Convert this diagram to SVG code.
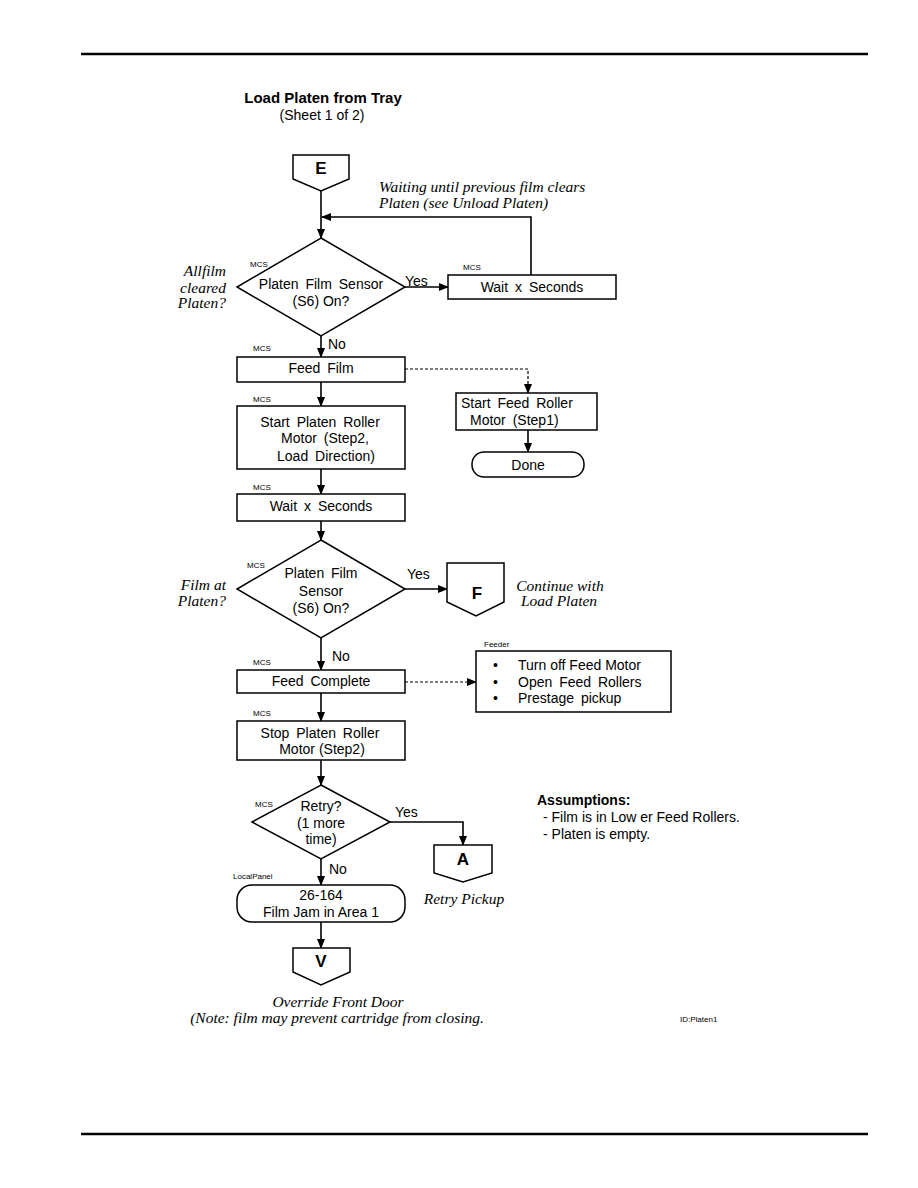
<svg xmlns="http://www.w3.org/2000/svg" width="918" height="1188" viewBox="0 0 918 1188">
<style>
.s{fill:#fff;stroke:#000;stroke-width:1.5}
.t{font-family:"Liberation Sans",Arial,sans-serif;font-size:14px;fill:#000}
.w{word-spacing:3px}
.c{text-anchor:middle}
.sm{font-family:"Liberation Sans",Arial,sans-serif;font-size:8px;fill:#000}
.b{font-family:"Liberation Sans",Arial,sans-serif;font-weight:bold;fill:#000}
.i{font-family:"Liberation Serif","Times New Roman",serif;font-style:italic;font-size:15.5px;fill:#000}
.ln{fill:none;stroke:#000;stroke-width:1.6}
.d{fill:none;stroke:#000;stroke-width:1.2;stroke-dasharray:3,2}
</style>
<defs>
<marker id="ah" markerWidth="10" markerHeight="8" refX="9" refY="4" orient="auto" markerUnits="userSpaceOnUse">
<path d="M0,0 L10,4 L0,8 z" fill="#000"/>
</marker>
</defs>
<rect width="918" height="1188" fill="#fff"/>
<line x1="81" y1="54" x2="868" y2="54" stroke="#000" stroke-width="2.5"/>
<line x1="81" y1="1134" x2="868" y2="1134" stroke="#000" stroke-width="2.5"/>
<text class="b c" x="323" y="103" font-size="15">Load Platen from Tray</text>
<text class="t c" x="322" y="120">(Sheet 1 of 2)</text>

<g id="connectors">
<line class="ln" x1="321" y1="191" x2="321" y2="238" marker-end="url(#ah)"/>
<polyline class="ln" points="531,275 531,217 322,217" marker-end="url(#ah)"/>
<line class="ln" x1="405" y1="287" x2="448" y2="287" marker-end="url(#ah)"/>
<line class="ln" x1="321" y1="336" x2="321" y2="357" marker-end="url(#ah)"/>
<line class="ln" x1="321" y1="382" x2="321" y2="406" marker-end="url(#ah)"/>
<line class="ln" x1="321" y1="469" x2="321" y2="494" marker-end="url(#ah)"/>
<line class="ln" x1="321" y1="521" x2="321" y2="540" marker-end="url(#ah)"/>
<line class="ln" x1="405" y1="589" x2="447" y2="589" marker-end="url(#ah)"/>
<line class="ln" x1="321" y1="638" x2="321" y2="670" marker-end="url(#ah)"/>
<polyline class="d" points="405,369 528,369 528,393" marker-end="url(#ah)"/>
<line class="ln" x1="528" y1="430" x2="528" y2="452" marker-end="url(#ah)"/>
<line class="d" x1="405" y1="682" x2="476" y2="682" marker-end="url(#ah)"/>
<line class="ln" x1="321" y1="693" x2="321" y2="721" marker-end="url(#ah)"/>
<line class="ln" x1="321" y1="760" x2="321" y2="785" marker-end="url(#ah)"/>
<polyline class="ln" points="390,822 463,822 463,845" marker-end="url(#ah)"/>
<line class="ln" x1="321" y1="859" x2="321" y2="885" marker-end="url(#ah)"/>
<line class="ln" x1="321" y1="922" x2="321" y2="948" marker-end="url(#ah)"/>
<text class="t" x="405" y="286">Yes</text>
<text class="t" x="328" y="349">No</text>
<text class="t" x="407" y="579">Yes</text>
<text class="t" x="332" y="661">No</text>
<text class="t" x="395" y="817">Yes</text>
<text class="t" x="329" y="874">No</text>
<text class="i" x="379" y="192">Waiting until previous film clears</text>
<text class="i" x="379" y="208">Platen (see Unload Platen)</text>
</g>

<g id="E">
<polygon class="s" points="293,155 349,155 349,179 321,191 293,179"/>
<text class="b c" x="321" y="174" font-size="17">E</text>
</g>

<g id="dec1">
<polygon class="s" points="321,238 405,287 321,336 237,287"/>
<text class="sm" x="250" y="267">MCS</text>
<text class="t c w" x="321" y="289">Platen Film Sensor</text>
<text class="t c" x="321" y="306">(S6) On?</text>
<text class="i" x="226" y="276" text-anchor="end">Allfilm</text>
<text class="i" x="226" y="293" text-anchor="end">cleared</text>
<text class="i" x="226" y="308" text-anchor="end">Platen?</text>
</g>

<g id="wait1">
<text class="sm" x="463" y="270">MCS</text>
<rect class="s" x="448" y="275" width="168" height="24"/>
<text class="t c w" x="532" y="292">Wait x Seconds</text>
</g>

<g id="feedfilm">
<text class="sm" x="253" y="351">MCS</text>
<rect class="s" x="237" y="357" width="168" height="25"/>
<text class="t c w" x="321" y="373">Feed Film</text>
</g>

<g id="startfeed">
<rect class="s" x="456" y="393" width="141" height="37"/>
<text class="t w" x="461" y="408">Start Feed Roller</text>
<text class="t w" x="470" y="425">Motor (Step1)</text>
</g>

<g id="done">
<rect class="s" x="472" y="452" width="112" height="25" rx="12" ry="12"/>
<text class="t c" x="528" y="470">Done</text>
</g>

<g id="startplaten">
<text class="sm" x="253" y="402">MCS</text>
<rect class="s" x="237" y="406" width="168" height="63"/>
<text class="t c w" x="320" y="427">Start Platen Roller</text>
<text class="t c w" x="325" y="443">Motor (Step2,</text>
<text class="t c w" x="326" y="461">Load Direction)</text>
</g>

<g id="wait2">
<text class="sm" x="253" y="490">MCS</text>
<rect class="s" x="237" y="494" width="168" height="27"/>
<text class="t c w" x="321" y="511">Wait x Seconds</text>
</g>

<g id="dec2">
<polygon class="s" points="321,540 405,589 321,638 237,589"/>
<text class="sm" x="247" y="568">MCS</text>
<text class="t c w" x="321" y="578">Platen Film</text>
<text class="t c" x="321" y="596">Sensor</text>
<text class="t c" x="321" y="613">(S6) On?</text>
<text class="i" x="226" y="590" text-anchor="end">Film at</text>
<text class="i" x="226" y="606" text-anchor="end">Platen?</text>
</g>

<g id="F">
<polygon class="s" points="447,563 504,563 504,602 476,616 447,602"/>
<text class="b c" x="477" y="599" font-size="17">F</text>
<text class="i c" x="560" y="591">Continue with</text>
<text class="i c" x="559" y="606">Load Platen</text>
</g>

<g id="feedcomplete">
<text class="sm" x="253" y="665">MCS</text>
<rect class="s" x="237" y="670" width="168" height="23"/>
<text class="t c w" x="321" y="686">Feed Complete</text>
</g>

<g id="feeder">
<text class="sm" x="484" y="647">Feeder</text>
<rect class="s" x="476" y="651" width="195" height="61"/>
<text class="t" x="493" y="670">•</text>
<text class="t" x="518" y="670">Turn off Feed Motor</text>
<text class="t" x="493" y="687">•</text>
<text class="t w" x="518" y="687">Open Feed Rollers</text>
<text class="t" x="493" y="703">•</text>
<text class="t w" x="518" y="703">Prestage pickup</text>
</g>

<g id="stopplaten">
<text class="sm" x="253" y="716">MCS</text>
<rect class="s" x="237" y="721" width="168" height="39"/>
<text class="t c w" x="320" y="738">Stop Platen Roller</text>
<text class="t c" x="322" y="754">Motor (Step2)</text>
</g>

<g id="dec3">
<polygon class="s" points="321,785 390,822 321,859 252,822"/>
<text class="sm" x="255" y="807">MCS</text>
<text class="t c" x="321" y="811">Retry?</text>
<text class="t c" x="321" y="828">(1 more</text>
<text class="t c" x="321" y="844">time)</text>
</g>

<g id="A">
<polygon class="s" points="434,845 492,845 492,873 463,882 434,873"/>
<text class="b c" x="463" y="865" font-size="17">A</text>
<text class="i c" x="464" y="904">Retry Pickup</text>
</g>

<g id="jam">
<text class="sm" x="233" y="879">LocalPanel</text>
<rect class="s" x="237" y="885" width="168" height="37" rx="15" ry="15"/>
<text class="t c" x="321" y="900">26-164</text>
<text class="t c" x="321" y="917">Film Jam in Area 1</text>
</g>

<g id="V">
<polygon class="s" points="293,948 350,948 350,972 321,985 293,972"/>
<text class="b c" x="321" y="967" font-size="17">V</text>
<text class="i c" x="338" y="1007">Override Front Door</text>
<text class="i c" x="337" y="1023">(Note: film may prevent cartridge from closing.</text>
</g>

<g id="assumptions">
<text class="b" x="537" y="805" font-size="14">Assumptions:</text>
<text class="t" x="543" y="822">- Film is in Low er Feed Rollers.</text>
<text class="t" x="543" y="839">- Platen is empty.</text>
</g>

<text class="sm" x="680" y="1022" font-size="9">ID:Platen1</text>
</svg>
